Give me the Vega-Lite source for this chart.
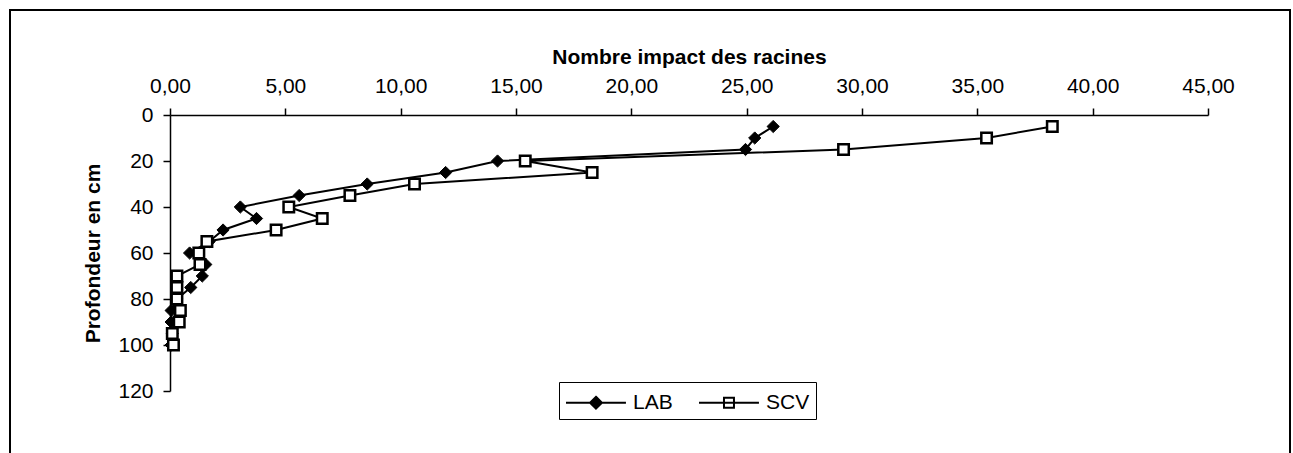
{
  "$schema": "https://vega.github.io/schema/vega-lite/v6.json",
  "width": 1280,
  "height": 450,
  "autosize": {"type": "none"},
  "padding": {"left": 10, "top": 10, "right": 3, "bottom": 0},
  "background": "white",
  "config": {
    "font": "Liberation Sans",
    "view": {"stroke": "black", "strokeWidth": 2},
    "axis": {
      "grid": false,
      "domainColor": "black",
      "domainWidth": 1.5,
      "tickColor": "black",
      "tickWidth": 1.5,
      "tickSize": 7,
      "labelColor": "black",
      "labelFont": "Liberation Sans",
      "labelFontSize": 21,
      "labelFlush": false,
      "labelOverlap": false,
      "titleColor": "black",
      "titleFont": "Liberation Sans",
      "titleFontSize": 21,
      "titleFontWeight": "bold"
    },
    "legend": {
      "strokeColor": "black",
      "fillColor": "white",
      "padding": 6,
      "symbolSize": 729,
      "symbolStrokeWidth": 2,
      "symbolStrokeColor": "black",
      "symbolOpacity": 1,
      "labelFontSize": 21,
      "labelFont": "Liberation Sans",
      "labelColor": "black",
      "labelOffset": 39,
      "columnPadding": 22
    }
  },
  "data": {
    "values": [
      {"series": "LAB", "depth": 5, "value": 26.15},
      {"series": "LAB", "depth": 10, "value": 25.35},
      {"series": "LAB", "depth": 15, "value": 24.95},
      {"series": "LAB", "depth": 20, "value": 14.2},
      {"series": "LAB", "depth": 25, "value": 11.95},
      {"series": "LAB", "depth": 30, "value": 8.55},
      {"series": "LAB", "depth": 35, "value": 5.6},
      {"series": "LAB", "depth": 40, "value": 3.05},
      {"series": "LAB", "depth": 45, "value": 3.75},
      {"series": "LAB", "depth": 50, "value": 2.3},
      {"series": "LAB", "depth": 55, "value": 1.7},
      {"series": "LAB", "depth": 60, "value": 0.85},
      {"series": "LAB", "depth": 65, "value": 1.55},
      {"series": "LAB", "depth": 70, "value": 1.4},
      {"series": "LAB", "depth": 75, "value": 0.9},
      {"series": "LAB", "depth": 80, "value": 0.3},
      {"series": "LAB", "depth": 85, "value": 0.05},
      {"series": "LAB", "depth": 90, "value": 0.05},
      {"series": "LAB", "depth": 95, "value": 0.1},
      {"series": "LAB", "depth": 100, "value": 0.05},
      {"series": "SCV", "depth": 5, "value": 38.25},
      {"series": "SCV", "depth": 10, "value": 35.4},
      {"series": "SCV", "depth": 15, "value": 29.2},
      {"series": "SCV", "depth": 20, "value": 15.4},
      {"series": "SCV", "depth": 25, "value": 18.3},
      {"series": "SCV", "depth": 30, "value": 10.6},
      {"series": "SCV", "depth": 35, "value": 7.8},
      {"series": "SCV", "depth": 40, "value": 5.15},
      {"series": "SCV", "depth": 45, "value": 6.6},
      {"series": "SCV", "depth": 50, "value": 4.6},
      {"series": "SCV", "depth": 55, "value": 1.6},
      {"series": "SCV", "depth": 60, "value": 1.25},
      {"series": "SCV", "depth": 65, "value": 1.3},
      {"series": "SCV", "depth": 70, "value": 0.3},
      {"series": "SCV", "depth": 75, "value": 0.3},
      {"series": "SCV", "depth": 80, "value": 0.3},
      {"series": "SCV", "depth": 85, "value": 0.45},
      {"series": "SCV", "depth": 90, "value": 0.4},
      {"series": "SCV", "depth": 95, "value": 0.1},
      {"series": "SCV", "depth": 100, "value": 0.15}
    ]
  },
  "encoding": {
    "x": {
      "field": "value",
      "type": "quantitative",
      "scale": {"domain": [0, 45], "range": [160, 1198], "nice": false, "zero": false},
      "axis": {
        "orient": "top",
        "offset": -105,
        "values": [0, 5, 10, 15, 20, 25, 30, 35, 40, 45],
        "labelExpr": "replace(format(datum.value, '.2f'), '.', ',')",
        "title": "Nombre impact des racines",
        "titlePadding": 8,
        "labelPadding": 12
      }
    },
    "y": {
      "field": "depth",
      "type": "quantitative",
      "scale": {"domain": [0, 120], "range": [105, 381], "nice": false, "zero": false},
      "axis": {
        "orient": "left",
        "offset": -160,
        "values": [0, 20, 40, 60, 80, 100, 120],
        "title": "Profondeur en cm",
        "titlePadding": 14,
        "labelPadding": 10
      }
    }
  },
  "layer": [
    {
      "mark": {"type": "line", "color": "black", "strokeWidth": 2},
      "encoding": {
        "detail": {"field": "series"},
        "order": {"field": "depth", "type": "quantitative"}
      }
    },
    {
      "mark": {"type": "point", "stroke": "black", "opacity": 1, "filled": false},
      "encoding": {
        "shape": {
          "condition": {"test": "datum.series === 'LAB'", "value": "diamond"},
          "value": "square"
        },
        "fill": {
          "condition": {"test": "datum.series === 'LAB'", "value": "black"},
          "value": "white"
        },
        "size": {
          "condition": {"test": "datum.series === 'LAB'", "value": 150},
          "value": 110
        },
        "strokeWidth": {
          "condition": {"test": "datum.series === 'LAB'", "value": 1},
          "value": 2.5
        }
      }
    },
    {
      "transform": [{"filter": "false"}],
      "mark": {"type": "point", "stroke": "black", "opacity": 1, "filled": false, "strokeWidth": 2},
      "encoding": {
        "shape": {
          "field": "series",
          "type": "nominal",
          "scale": {
            "domain": ["LAB", "SCV"],
            "range": [
              "M-1,0H3.44M1.22,-0.44L1.66,0L1.22,0.44L0.78,0Z",
              "M-1,0H3.44M0.85,-0.37H1.59V0.37H0.85Z"
            ]
          },
          "legend": {
            "title": null,
            "orient": "none",
            "legendX": 549,
            "legendY": 372,
            "direction": "horizontal",
            "encode": {
              "symbols": {
                "update": {
                  "stroke": {"value": "black"},
                  "strokeWidth": {"value": 2},
                  "opacity": {"value": 1}
                }
              }
            }
          }
        },
        "fill": {
          "field": "series",
          "type": "nominal",
          "scale": {"domain": ["LAB", "SCV"], "range": ["black", "white"]},
          "legend": {
            "title": null,
            "orient": "none",
            "legendX": 549,
            "legendY": 372,
            "direction": "horizontal",
            "encode": {
              "symbols": {
                "update": {
                  "stroke": {"value": "black"},
                  "strokeWidth": {"value": 2},
                  "opacity": {"value": 1}
                }
              }
            }
          }
        }
      }
    }
  ]
}
